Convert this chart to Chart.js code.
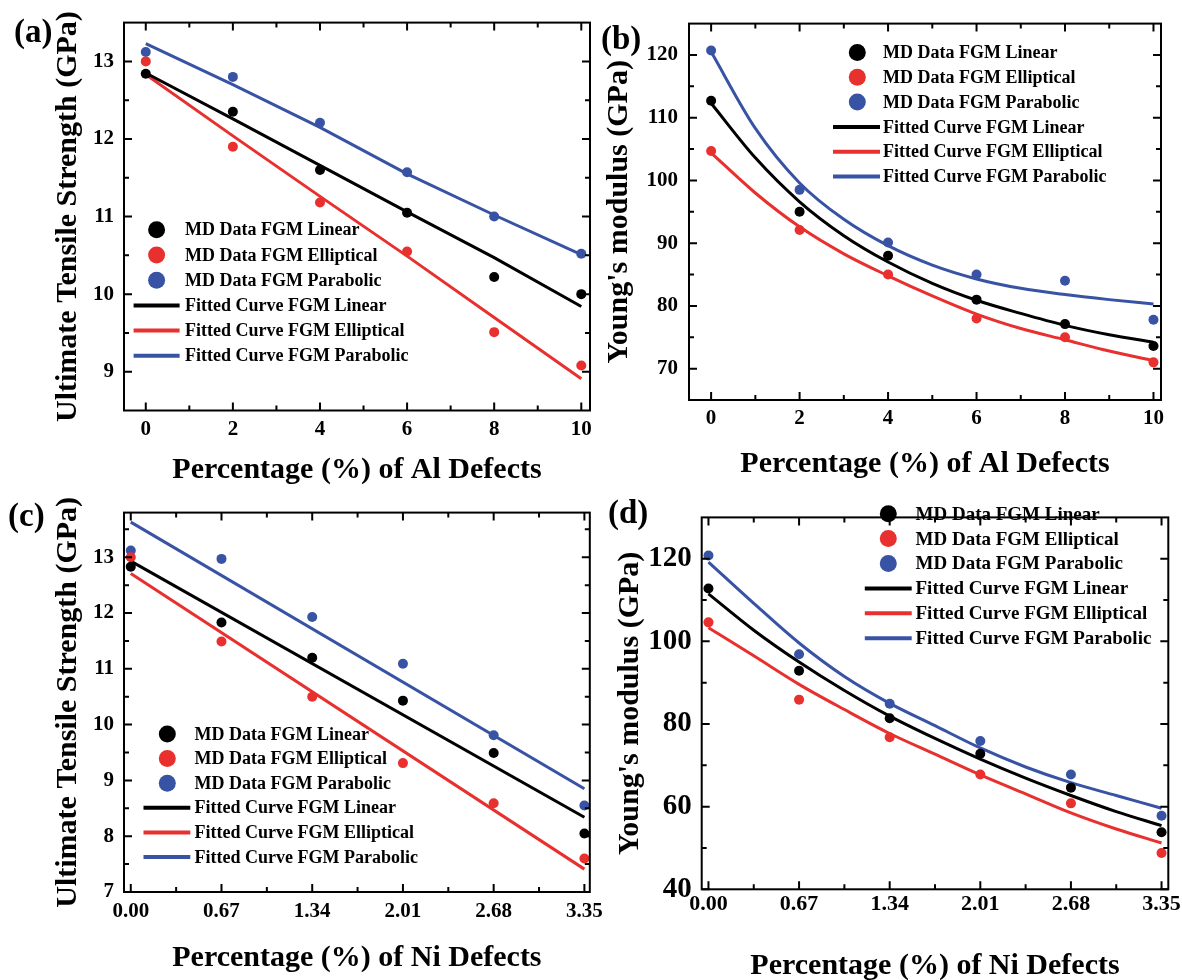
<!DOCTYPE html>
<html>
<head>
<meta charset="utf-8">
<title>FGM defects - UTS and Young's modulus</title>
<script src="https://cdn.jsdelivr.net/npm/chart.js@4.4.1/dist/chart.umd.min.js"></script>
<style>
  html, body { margin: 0; padding: 0; background: #fff; overflow: hidden; }
  #wrap { position: relative; width: 1182px; height: 980px; }
  .panel { position: absolute; }
</style>
</head>
<body>
<div id="wrap">
  <canvas id="chartA" class="panel" width="600" height="490" style="left:0;top:0"></canvas>
  <canvas id="chartB" class="panel" width="592" height="490" style="left:590px;top:0"></canvas>
  <canvas id="chartC" class="panel" width="610" height="490" style="left:0;top:490px"></canvas>
  <canvas id="chartD" class="panel" width="600" height="495" style="left:590px;top:490px"></canvas>
</div>
<script>
// STEP 1: data
const alDefects = [0, 2, 4, 6, 8, 10];
const niDefects = [0, 0.67, 1.34, 2.01, 2.68, 3.35];

// (a) Ultimate tensile strength vs Al defects
const utsAlLinear     = [12.84, 12.35, 11.60, 11.05, 10.22, 10.00];
const utsAlElliptical = [13.00, 11.90, 11.18, 10.55, 9.51, 9.08];
const utsAlParabolic  = [13.12, 12.80, 12.21, 11.57, 11.00, 10.52];
const fitUtsAlLinear     = [12.85, 12.26, 11.66, 11.06, 10.47, 9.84];
const fitUtsAlElliptical = [12.83, 12.04, 11.26, 10.49, 9.70, 8.91];
const fitUtsAlParabolic  = [13.23, 12.70, 12.15, 11.55, 11.02, 10.51];

// (b) Young's modulus vs Al defects
const fitAlX = [0, 1, 2, 3, 4, 5, 6, 7, 8, 9, 10];
const ymAlLinear     = [112.7, 95.0, 88.0, 81.0, 77.1, 73.6];
const ymAlElliptical = [104.7, 92.1, 85.0, 78.0, 75.0, 71.0];
const ymAlParabolic  = [120.7, 98.5, 90.1, 85.0, 84.0, 77.8];
const fitYmAlLinear     = [112.3, 103.6, 96.6, 91.2, 87.0, 83.6, 80.9, 78.8, 76.9, 75.4, 74.2];
const fitYmAlElliptical = [104.4, 98.0, 92.6, 88.3, 84.8, 81.6, 78.7, 76.4, 74.6, 72.8, 71.3];
const fitYmAlParabolic  = [120.5, 108.3, 99.6, 93.8, 89.6, 86.5, 84.3, 82.8, 81.8, 81.0, 80.3];

// (c) Ultimate tensile strength vs Ni defects
const utsNiLinear     = [12.83, 11.83, 11.20, 10.43, 9.49, 8.05];
const utsNiElliptical = [13.00, 11.49, 10.50, 9.31, 8.59, 7.60];
const utsNiParabolic  = [13.12, 12.97, 11.93, 11.09, 9.81, 8.55];
const fitNiLineX = [0, 3.35];
const fitUtsNiLinear     = [12.93, 8.34];
const fitUtsNiElliptical = [12.71, 7.41];
const fitUtsNiParabolic  = [13.63, 8.85];

// (d) Young's modulus vs Ni defects
const fitNiX = [0, 0.335, 0.67, 1.005, 1.34, 1.675, 2.01, 2.345, 2.68, 3.015, 3.35];
const ymNiLinear     = [112.8, 92.9, 81.4, 72.8, 64.6, 53.8];
const ymNiElliptical = [104.6, 85.9, 76.8, 67.8, 60.8, 48.8];
const ymNiParabolic  = [120.8, 96.9, 84.9, 75.9, 67.8, 57.8];
const fitYmNiLinear     = [111.5, 102.7, 95.0, 88.1, 81.9, 76.5, 71.5, 66.9, 62.7, 58.8, 55.4];
const fitYmNiElliptical = [103.3, 96.5, 89.6, 83.5, 77.7, 72.7, 67.7, 63.1, 58.5, 54.6, 51.2];
const fitYmNiParabolic  = [119.2, 109.2, 99.6, 91.5, 85.0, 79.6, 74.2, 69.6, 65.8, 62.7, 59.6];

// tick values (major + minor)
const alTicks = [0, 2, 4, 6, 8, 10];
const alMinorTicks = [1, 3, 5, 7, 9];
const niTicks = [0, 0.67, 1.34, 2.01, 2.68, 3.35];
const niMinorTicks = [0.335, 1.005, 1.675, 2.345, 3.015];
const utsAlTicks = [9, 10, 11, 12, 13];
const utsAlMinorTicks = [9.5, 10.5, 11.5, 12.5];
const ymAlTicks = [70, 80, 90, 100, 110, 120];
const ymAlMinorTicks = [75, 85, 95, 105, 115];
const utsNiTicks = [7, 8, 9, 10, 11, 12, 13];
const utsNiMinorTicks = [7.5, 8.5, 9.5, 10.5, 11.5, 12.5, 13.5];
const ymNiTicks = [40, 60, 80, 100, 120];
const ymNiMinorTicks = [50, 70, 90, 110];

const seriesNames = ['FGM Linear', 'FGM Elliptical', 'FGM Parabolic'];
const seriesColors = ['#000000', '#e8302e', '#3853a4'];
const FONT = "'Liberation Serif', 'Times New Roman', serif";

// STEP 2: datasets (3 x MD points + 3 x fitted curves)
function buildDatasets(xPts, pts, xFit, fits, curved) {
    const ds = [];
    pts.forEach((ys, i) => ds.push({
        label: 'MD Data ' + seriesNames[i],
        data: xPts.map((x, j) => ({ x: x, y: ys[j] })),
        showLine: false,
        pointRadius: 5,
        pointHoverRadius: 5,
        pointBorderWidth: 0,
        backgroundColor: seriesColors[i],
        borderColor: seriesColors[i]
    }));
    fits.forEach((ys, i) => ds.push({
        label: 'Fitted Curve ' + seriesNames[i],
        data: xFit.map((x, j) => ({ x: x, y: ys[j] })),
        showLine: true,
        pointRadius: 0,
        borderWidth: 3,
        borderColor: seriesColors[i],
        backgroundColor: seriesColors[i],
        cubicInterpolationMode: curved ? 'monotone' : 'default',
        tension: 0
    }));
    return ds;
}

// STEP 3: frame, inward ticks, panel letter and inside legend
const panelDecor = {
    id: 'panelDecor',
    afterDraw(chart, args, opts) {
        const ctx = chart.ctx;
        const a = chart.chartArea;
        const xs = chart.scales.x;
        const ys = chart.scales.y;
        ctx.save();
        ctx.strokeStyle = '#000';
        ctx.lineWidth = 2;
        ctx.strokeRect(a.left, a.top, a.right - a.left, a.bottom - a.top);

        const xMarks = (vals, len) => vals.forEach(v => {
            const px = xs.getPixelForValue(v);
            ctx.beginPath();
            ctx.moveTo(px, a.bottom); ctx.lineTo(px, a.bottom - len);
            ctx.moveTo(px, a.top); ctx.lineTo(px, a.top + len);
            ctx.stroke();
        });
        const yMarks = (vals, len) => vals.forEach(v => {
            const py = ys.getPixelForValue(v);
            ctx.beginPath();
            ctx.moveTo(a.left, py); ctx.lineTo(a.left + len, py);
            ctx.moveTo(a.right, py); ctx.lineTo(a.right - len, py);
            ctx.stroke();
        });
        xMarks(opts.xMajor, 8); xMarks(opts.xMinor, 5);
        yMarks(opts.yMajor, 8); yMarks(opts.yMinor, 5);

        // panel letter
        ctx.fillStyle = '#000';
        ctx.textAlign = 'left';
        ctx.textBaseline = 'middle';
        ctx.font = 'bold 33px ' + FONT;
        ctx.fillText(opts.letter, opts.letterX, opts.letterY);

        // legend
        const lg = opts.legend;
        ctx.font = 'bold ' + lg.fontSize + 'px ' + FONT;
        chart.data.datasets.forEach((ds, i) => {
            const y = lg.rowY + i * lg.gap;
            if (ds.showLine) {
                ctx.strokeStyle = ds.borderColor;
                ctx.lineWidth = 4;
                ctx.beginPath();
                ctx.moveTo(lg.lineX[0], y);
                ctx.lineTo(lg.lineX[1], y);
                ctx.stroke();
            } else {
                ctx.fillStyle = ds.backgroundColor;
                ctx.beginPath();
                ctx.arc(lg.markerX, y, 8.5, 0, Math.PI * 2);
                ctx.fill();
            }
            ctx.fillStyle = '#000';
            ctx.fillText(ds.label, lg.textX, y + 1);
        });
        ctx.restore();
    }
};

// STEP 4: one chart per panel
function makePanel(id, cfg) {
    return new Chart(document.getElementById(id), {
        type: 'scatter',
        data: { datasets: cfg.datasets },
        options: {
            responsive: false,
            animation: false,
            layout: { padding: cfg.padding },
            plugins: {
                legend: { display: false },
                tooltip: { enabled: false },
                panelDecor: cfg.decor
            },
            scales: {
                x: {
                    type: 'linear',
                    min: cfg.xRange[0],
                    max: cfg.xRange[1],
                    afterBuildTicks: s => { s.ticks = cfg.decor.xMajor.map(v => ({ value: v })); },
                    afterFit: s => { s.height = cfg.xHeight; },
                    grid: { display: false, drawTicks: false },
                    border: { display: false },
                    ticks: {
                        autoSkip: false,
                        maxRotation: 0,
                        color: '#000',
                        padding: cfg.xTickPad,
                        font: { family: FONT, weight: 'bold', size: cfg.xTickSize },
                        callback: cfg.xFormat
                    },
                    title: {
                        display: true,
                        text: cfg.xTitle,
                        color: '#000',
                        font: { family: FONT, weight: 'bold', size: 30 },
                        padding: { top: 0, bottom: cfg.xTitlePad }
                    }
                },
                y: {
                    type: 'linear',
                    min: cfg.yRange[0],
                    max: cfg.yRange[1],
                    afterBuildTicks: s => { s.ticks = cfg.decor.yMajor.map(v => ({ value: v })); },
                    afterFit: s => { s.width = cfg.yWidth; },
                    grid: { display: false, drawTicks: false },
                    border: { display: false },
                    ticks: {
                        autoSkip: false,
                        color: '#000',
                        padding: cfg.yTickPad,
                        font: { family: FONT, weight: 'bold', size: cfg.yTickSize },
                        callback: v => String(v)
                    },
                    title: {
                        display: true,
                        text: cfg.yTitle,
                        color: '#000',
                        font: { family: FONT, weight: 'bold', size: 30 },
                        padding: { top: cfg.yTitlePad, bottom: 0 }
                    }
                }
            }
        },
        plugins: [panelDecor]
    });
}

const fmtInt = v => String(v);
const fmt2 = v => Number(v).toFixed(2);

window.addEventListener('DOMContentLoaded', () => {
    // (a)
    makePanel('chartA', {
        datasets: buildDatasets(alDefects, [utsAlLinear, utsAlElliptical, utsAlParabolic],
            alDefects, [fitUtsAlLinear, fitUtsAlElliptical, fitUtsAlParabolic], false),
        padding: { left: 0, top: 19, right: 10, bottom: 0 },
        xRange: [-0.5, 10.2], yRange: [8.5, 13.5],
        xHeight: 79.5, yWidth: 124,
        xTickPad: 6, xTickSize: 21, yTickPad: 10, yTickSize: 21,
        xTitle: 'Percentage (%) of Al Defects', xTitlePad: 2,
        yTitle: 'Ultimate Tensile Strength (GPa)', yTitlePad: 50,
        xFormat: fmtInt,
        decor: {
            xMajor: alTicks, xMinor: alMinorTicks, yMajor: utsAlTicks, yMinor: utsAlMinorTicks,
            letter: '(a)', letterX: 14, letterY: 33,
            legend: { markerX: 156.6, lineX: [133.6, 179.6], textX: 185, rowY: 229.8, gap: 25.2, fontSize: 18 }
        }
    });

    // (b)
    makePanel('chartB', {
        datasets: buildDatasets(alDefects, [ymAlLinear, ymAlElliptical, ymAlParabolic],
            fitAlX, [fitYmAlLinear, fitYmAlElliptical, fitYmAlParabolic], true),
        padding: { left: 0, top: 20, right: 21, bottom: 0 },
        xRange: [-0.5, 10.17], yRange: [65, 125],
        xHeight: 90, yWidth: 99,
        xTickPad: 6, xTickSize: 21, yTickPad: 11, yTickSize: 21,
        xTitle: 'Percentage (%) of Al Defects', xTitlePad: 8,
        yTitle: "Young's modulus (GPa)", yTitlePad: 11,
        xFormat: fmtInt,
        decor: {
            xMajor: alTicks, xMinor: alMinorTicks, yMajor: ymAlTicks, yMinor: ymAlMinorTicks,
            letter: '(b)', letterX: 11, letterY: 40,
            legend: { markerX: 267.3, lineX: [243, 290], textX: 293, rowY: 52.5, gap: 24.8, fontSize: 18 }
        }
    });

    // (c)
    makePanel('chartC', {
        datasets: buildDatasets(niDefects, [utsNiLinear, utsNiElliptical, utsNiParabolic],
            fitNiLineX, [fitUtsNiLinear, fitUtsNiElliptical, fitUtsNiParabolic], false),
        padding: { left: 0, top: 13, right: 20, bottom: 0 },
        xRange: [-0.05, 3.39], yRange: [7, 13.8],
        xHeight: 88, yWidth: 124,
        xTickPad: 7, xTickSize: 21, yTickPad: 10, yTickSize: 21,
        xTitle: 'Percentage (%) of Ni Defects', xTitlePad: 4,
        yTitle: 'Ultimate Tensile Strength (GPa)', yTitlePad: 50,
        xFormat: fmt2,
        decor: {
            xMajor: niTicks, xMinor: niMinorTicks, yMajor: utsNiTicks, yMinor: utsNiMinorTicks,
            letter: '(c)', letterX: 8, letterY: 27,
            legend: { markerX: 167.3, lineX: [143.5, 190.3], textX: 194.6, rowY: 244, gap: 24.6, fontSize: 18 }
        }
    });

    // (d)
    makePanel('chartD', {
        datasets: buildDatasets(niDefects, [ymNiLinear, ymNiElliptical, ymNiParabolic],
            fitNiX, [fitYmNiLinear, fitYmNiElliptical, fitYmNiParabolic], true),
        padding: { left: 0, top: 7, right: 21.7, bottom: 0 },
        xRange: [-0.05, 3.40], yRange: [40, 130],
        xHeight: 95.7, yWidth: 111.7,
        xTickPad: 1.5, xTickSize: 22, yTickPad: 10, yTickSize: 29,
        xTitle: 'Percentage (%) of Ni Defects', xTitlePad: 1,
        yTitle: "Young's modulus (GPa)", yTitlePad: 22,
        xFormat: fmt2,
        decor: {
            xMajor: niTicks, xMinor: niMinorTicks, yMajor: ymNiTicks, yMinor: ymNiMinorTicks,
            letter: '(d)', letterX: 18, letterY: 24,
            legend: { markerX: 298.3, lineX: [274.8, 321.7], textX: 325.5, rowY: 23.7, gap: 24.9, fontSize: 19 }
        }
    });
});
</script>
</body>
</html>
